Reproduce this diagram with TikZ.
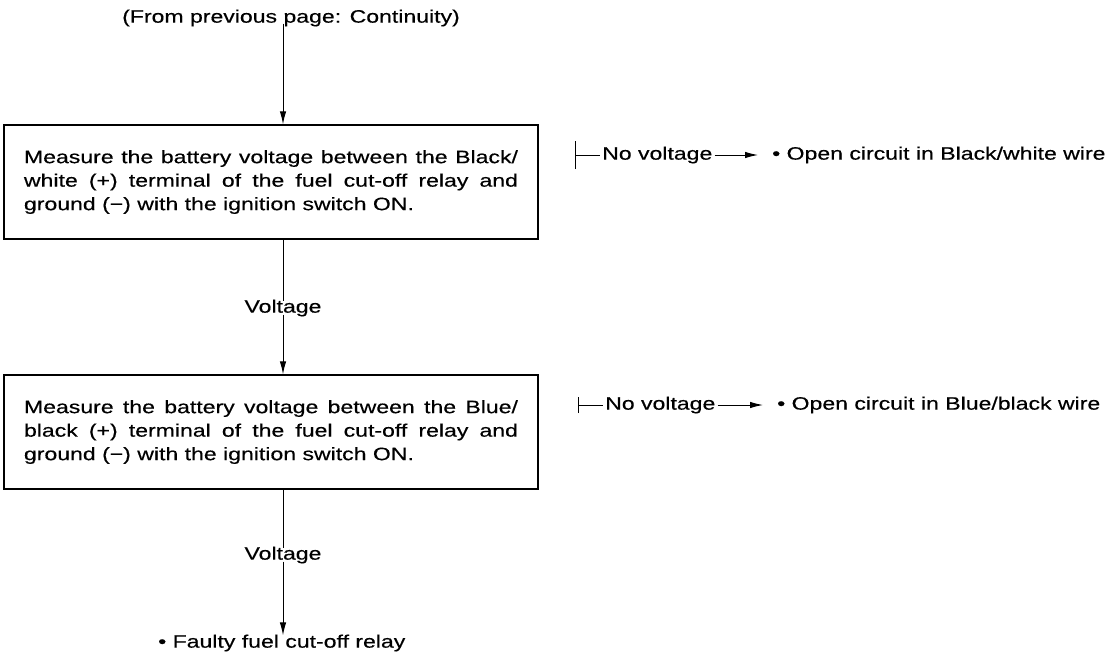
\documentclass[tikz,border=0pt]{standalone}
\usepackage{fontspec}
\setmainfont{Liberation Sans}[FakeStretch=1.28, FakeBold=0.4]
\usetikzlibrary{arrows.meta}
\begin{document}
\begin{tikzpicture}[x=1pt,y=-1pt,
  txt/.style={font=\fontsize{18}{23}\selectfont, inner sep=2pt},
  stepbox/.style={draw, line width=1.3pt, minimum width=534pt, minimum height=114pt,
    text width=494pt, align=justify, inner sep=0pt, font=\fontsize{18}{23.5}\selectfont},
  arr/.style={-{Latex[length=13pt,width=6.5pt]}, line width=1pt},
  ln/.style={line width=1pt}]
\useasboundingbox (0,0) rectangle (1120,669);
\coordinate (ax) at (283,0);
\node[txt, anchor=west] (top) at (120,18) {(From previous page: Continuity)};
\node[stepbox] (box1) at (271,182) {Measure the battery voltage between the Black/\linebreak white (+) terminal of the fuel cut-off relay and\linebreak ground (−) with the ignition switch ON.};
\node[txt] (v1) at (283,308) {Voltage};
\node[stepbox] (box2) at (271,432) {Measure the battery voltage between the Blue/\linebreak black (+) terminal of the fuel cut-off relay and\linebreak ground (−) with the ignition switch ON.};
\node[txt] (v2) at (283,555) {Voltage};
\node[txt, anchor=west] (faulty) at (156,643) {\textbullet\ Faulty fuel cut-off relay};
\draw[arr] ([yshift=5pt]top.south -| ax) -- (box1.north -| ax);
\draw[ln] (box1.south -| ax) -- ([yshift=-4pt]v1.north);
\draw[arr] ([yshift=4pt]v1.south) -- (box2.north -| ax);
\draw[ln] (box2.south -| ax) -- ([yshift=-4pt]v2.north);
\draw[arr] ([yshift=4pt]v2.south) -- ([yshift=-3pt]faulty.north -| ax);
% right side
\coordinate (t1) at (575,155);
\coordinate (t2) at (578,405);
\node[txt, anchor=west] (nv1) at (600,155) {No voltage};
\node[txt, anchor=west] (r1) at (770,155) {\textbullet\ Open circuit in Black/white wire};
\node[txt, anchor=west] (nv2) at (603,405) {No voltage};
\node[txt, anchor=west] (r2) at (775,405) {\textbullet\ Open circuit in Blue/black wire};
\draw[ln] ([yshift=-14pt]t1) -- ([yshift=14pt]t1);
\draw[ln] (t1) -- (nv1.west);
\draw[arr] (nv1.east) -- ([xshift=-12pt]r1.west);
\draw[ln] ([yshift=-8pt]t2) -- ([yshift=8pt]t2);
\draw[ln] (t2) -- (nv2.west);
\draw[arr] (nv2.east) -- ([xshift=-12pt]r2.west);
\end{tikzpicture}
\end{document}
